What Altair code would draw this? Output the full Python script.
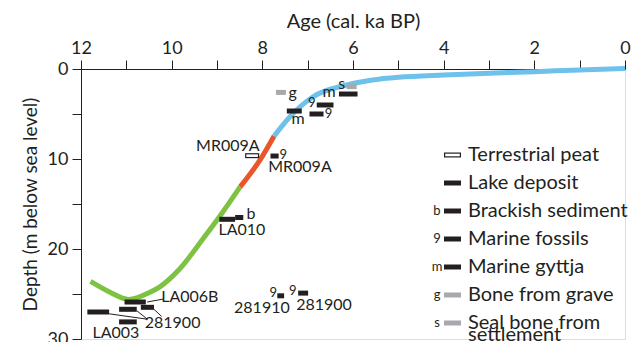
import altair as alt
import pandas as pd

# ---- sea-level curve (age ka BP, depth m) ----
curve_age = [11.79, 11.36, 10.95, 10.48, 10.26, 9.82, 9.30, 8.93, 8.49,
             8.49, 8.05, 7.74,
             7.74, 7.39, 6.88, 6.14, 5.40, 5.0, 4.0, 3.0, 2.0, 1.0, 0.0]
curve_depth = [23.6, 24.8, 25.6, 24.8, 24.2, 22.2, 18.8, 16.3, 13.1,
               13.1, 10.1, 7.44,
               7.44, 5.3, 3.08, 1.78, 1.1, 0.92, 0.67, 0.48, 0.3, 0.1, -0.07]
curve_seg = ["green"] * 9 + ["red"] * 3 + ["blue"] * 11

# ---- dated samples: age range and depth ----
bar_start = [7.70, 6.14, 6.31, 6.80, 6.96, 7.46, 8.38, 7.82, 8.95, 8.60,
             11.04, 10.68, 11.16, 11.86, 11.16, 7.67, 7.21]
bar_end = [7.48, 5.92, 5.90, 6.43, 6.65, 7.13, 8.07, 7.64, 8.60, 8.42,
           10.57, 10.39, 10.77, 11.38, 10.77, 7.52, 6.99]
bar_depth = [2.6, 1.96, 2.78, 4.0, 5.0, 4.67, 9.63, 9.67, 16.7, 16.5,
             25.89, 26.48, 26.7, 27.0, 28.1, 25.2, 24.9]
bar_type = ["grave", "seal", "gyttja", "fossil", "fossil", "gyttja", "peat", "fossil",
            "lake", "brackish", "lake", "lake", "lake", "lake", "lake", "fossil", "fossil"]

# ---- annotations ----
lab_text = ["g", "s", "m", "m", "MR009A", "MR009A", "b", "LA010", "LA006B",
            "281900", "LA003", "281910", "281900"]
lab_age = [7.33, 6.25, 6.53, 7.21, 8.76, 7.17, 8.25, 8.45, 9.60, 9.98, 11.23, 8.01, 6.64]
lab_depth = [2.7, 1.7, 2.52, 5.56, 8.52, 10.86, 16.1, 17.9, 25.33, 28.19, 29.37, 26.6, 26.2]

sym_text = ["9", "9", "9", "9", "9"]
sym_age = [6.91, 6.54, 7.54, 7.76, 7.33]
sym_depth = [3.81, 5.03, 9.56, 24.92, 24.63]

lead_age = [10.54, 10.77, 10.39, 11.38]
lead_age2 = [10.18, 10.54, 10.22, 10.54]
lead_depth = [25.89, 26.86, 26.7, 27.2]
lead_depth2 = [25.56, 27.78, 27.5, 27.8]

legend_labels = ["Terrestrial peat", "Lake deposit", "Brackish sediment", "Marine fossils",
                 "Marine gyttja", "Bone from grave", "Seal bone from\nsettlement"]
legend_prefix = ["", "", "b", "9", "m", "g", "s"]
legend_type = ["peat", "lake", "brackish", "fossil", "gyttja", "grave", "seal"]

# ---- styles ----
FONT = "Lato"
INK = "#231F20"
GRAY = "#A7A9AC"
type_color = {"peat": INK, "lake": INK, "brackish": INK, "fossil": INK,
              "gyttja": INK, "grave": GRAY, "seal": GRAY}

W, H = 544, 270
xscale = alt.Scale(domain=[12, 0], nice=False, zero=False)
yscale = alt.Scale(domain=[0, 30], reverse=True, nice=False, zero=False)

curve_df = pd.DataFrame({"age": curve_age, "depth": curve_depth, "seg": curve_seg,
                         "order": range(len(curve_age))})
bars_df = pd.DataFrame({"a1": bar_start, "a2": bar_end, "depth": bar_depth, "type": bar_type})
bars_df["color"] = bars_df["type"].map(type_color)
lab_df = pd.DataFrame({"age": lab_age, "depth": lab_depth, "text": lab_text})
sym_df = pd.DataFrame({"age": sym_age, "depth": sym_depth, "text": sym_text})
lead_df = pd.DataFrame({"a1": lead_age, "a2": lead_age2, "d1": lead_depth, "d2": lead_depth2})

x_axis = alt.Axis(orient="top", title="Age (cal. ka BP)", values=list(range(0, 13)),
                  labelExpr="datum.value % 2 == 0 ? datum.label : ''",
                  tickSize=9, tickColor=INK, domainColor=INK, labelColor=INK, titleColor=INK,
                  labelFontSize=18, titleFontSize=20, labelFont=FONT, titleFont=FONT,
                  titleFontWeight="normal", labelPadding=3, titlePadding=8, grid=False,
                  labelFlush=False)
y_axis = alt.Axis(orient="left", title="Depth (m below sea level)", values=[0, 5, 10, 15, 20, 25, 30],
                  labelExpr="datum.value % 10 == 0 ? datum.label : ''",
                  tickSize=9, tickColor=INK, domainColor=INK, labelColor=INK, titleColor=INK,
                  labelFontSize=18, titleFontSize=19, labelFont=FONT, titleFont=FONT,
                  titleFontWeight="normal", labelPadding=4, titlePadding=7, grid=False)

base_curve = alt.Chart(curve_df).mark_line(strokeWidth=5, interpolate="monotone").encode(
    x=alt.X("age:Q", scale=xscale, axis=x_axis),
    y=alt.Y("depth:Q", scale=yscale, axis=y_axis),
    color=alt.Color("seg:N", scale=alt.Scale(domain=["green", "red", "blue"],
                                             range=["#7DC242", "#E8572A", "#6EC1EA"]), legend=None),
    order="order:Q",
)

bars = alt.Chart(bars_df).mark_rule(strokeWidth=5).encode(
    x=alt.X("a1:Q", scale=xscale), x2="a2:Q",
    y=alt.Y("depth:Q", scale=yscale),
    color=alt.Color("color:N", scale=None),
)
peat_inner = alt.Chart(bars_df[bars_df["type"] == "peat"]).mark_rule(
    strokeWidth=2.6, color="white", xOffset=1.2, x2Offset=-1.2).encode(
    x=alt.X("a1:Q", scale=xscale), x2="a2:Q",
    y=alt.Y("depth:Q", scale=yscale),
)

leaders = alt.Chart(lead_df).mark_rule(strokeWidth=1, color=INK).encode(
    x=alt.X("a1:Q", scale=xscale), x2="a2:Q",
    y=alt.Y("d1:Q", scale=yscale), y2="d2:Q",
)

labels = alt.Chart(lab_df).mark_text(font=FONT, fontSize=16, color=INK, align="center",
                                     baseline="middle").encode(
    x=alt.X("age:Q", scale=xscale), y=alt.Y("depth:Q", scale=yscale), text="text:N")
syms = alt.Chart(sym_df).mark_text(font=FONT, fontSize=13, color=INK, align="center",
                                   baseline="middle").encode(
    x=alt.X("age:Q", scale=xscale), y=alt.Y("depth:Q", scale=yscale), text="text:N")

# ---- legend (pixel layout) ----
n = len(legend_labels)
leg = pd.DataFrame({"label": legend_labels, "prefix": legend_prefix, "type": legend_type})
leg["row_y"] = [86 + 28 * i for i in range(n)]
leg["sx1"] = 363
leg["sx2"] = 380
leg["tx"] = 387
leg["px"] = 356
leg["color"] = leg["type"].map(type_color)

leg_sw = alt.Chart(leg).mark_rule(strokeWidth=5).encode(
    x=alt.X("sx1:Q", scale=None), x2="sx2:Q", y=alt.Y("row_y:Q", scale=None),
    color=alt.Color("color:N", scale=None))
leg_peat = alt.Chart(leg[leg["type"] == "peat"]).mark_rule(
    strokeWidth=2.6, color="white", xOffset=1.2, x2Offset=-1.2).encode(
    x=alt.X("sx1:Q", scale=None), x2="sx2:Q", y=alt.Y("row_y:Q", scale=None))
leg_txt = alt.Chart(leg).mark_text(font=FONT, fontSize=20, color=INK, align="left",
                                   baseline="middle", lineBreak="\n", lineHeight=12).encode(
    x=alt.X("tx:Q", scale=None), y=alt.Y("row_y:Q", scale=None), text="label:N")
leg_pre = alt.Chart(leg).mark_text(font=FONT, fontSize=13, color=INK, align="center",
                                   baseline="middle").encode(
    x=alt.X("px:Q", scale=None), y=alt.Y("row_y:Q", scale=None), text="prefix:N")

chart = alt.layer(base_curve, leaders, bars, peat_inner, labels, syms,
                  leg_sw, leg_peat, leg_txt, leg_pre).properties(
    width=W, height=H,
    autosize=alt.AutoSizeParams(type="none"),
    padding={"left": 73, "top": 61, "right": 6, "bottom": 10},
).configure_view(stroke=None).configure(background="white")

chart.save("out.html", embed_options={"renderer": "svg", "actions": False})
